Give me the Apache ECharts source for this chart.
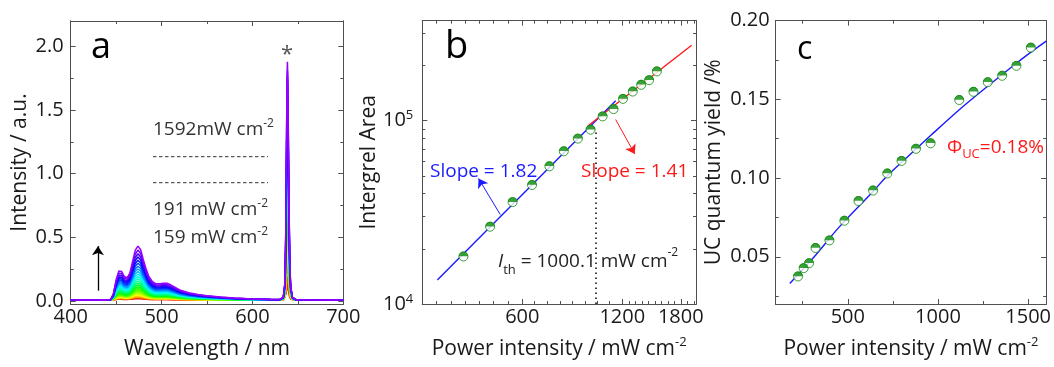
<!DOCTYPE html>
<html>
<head>
<meta charset="utf-8">
<script src="https://cdn.jsdelivr.net/npm/echarts@6/dist/echarts.min.js"></script>
<style>
  html, body { margin: 0; padding: 0; background: #ffffff; }
  #main { width: 1054px; height: 367px; }
</style>
</head>
<body>
<div id="main"></div>
<script>
// ---------- (a) emission spectra under increasing excitation ----------
const wavelengths = [400,420,440,444,447,450,453,456,459,462,465,468,471,474,477,480,483,486,490,494,
  498,502,506,510,515,520,530,540,550,565,580,600,620,630,634,636,637,638,638.5,639,640,641,642,644,648,660,680,700];
// upconverted band of the strongest spectrum (a.u., above baseline)
const bandShape = [0,0,0.001,0.004,0.05,0.16,0.228,0.225,0.185,0.175,0.21,0.30,0.39,0.424,0.395,0.315,0.245,0.185,0.145,0.128,
  0.128,0.133,0.132,0.12,0.1,0.08,0.058,0.044,0.034,0.024,0.016,0.009,0.005,0.004,0.0035,0.0035,0.0035,0.0035,0.0035,0.0035,
  0.0035,0.0035,0.0035,0.003,0.003,0.002,0.001,0];
// scattered excitation line, normalised
const laserShape = [0,0,0,0,0,0,0,0,0,0,0,0,0,0,0,0,0,0,0,0,
  0,0,0,0,0,0,0,0,0,0,0,0,0,0,0.01,0.08,0.4,0.93,1,0.93,
  0.5,0.18,0.06,0.01,0,0,0,0];
const baseline = 0.006;
// band height at 474 nm and excitation-line height for each spectrum, weakest first
const bandPeaks = [0.012,0.015,0.019,0.023,0.028,0.034,0.041,0.049,0.058,0.068,0.079,0.091,0.104,0.118,
  0.133,0.149,0.166,0.184,0.203,0.223,0.244,0.266,0.289,0.313,0.338,0.364,0.393,0.424];
const laserPeaks = [0.15,0.12,0.2,0.28,0.35,0.62,0.5,0.45,1.02,0.8,0.7,0.9,0.75,1.0,
  0.95,1.05,1.1,1.15,1.2,1.3,1.35,1.45,1.5,1.6,1.65,1.75,1.8,1.87];
const arrowA = [[430, 0.08], [430, 0.43]];

const ticksAx = [400, 500, 600, 700], minorAx = [450, 550, 650];
const ticksAy = [0, 0.5, 1.0, 1.5, 2.0], minorAy = [0.25, 0.75, 1.25, 1.75];

// ---------- (b) integrated area vs power density (log-log) ----------
const powerB = [399,480,561,642,724,800,882,963,1047,1129,1206,1290,1368,1445,1525];
const areaB = [18150,26380,35920,44510,56270,67960,79680,89150,105300,115400,131200,143800,156500,165900,185300];
const lowFit = { start: [333, 13500], end: 1146, slope: 1.82 };
const highFit = { start: [945, 93300], end: 1941, slope: 1.41 };
const thresholdPower = 1000.1;
const thresholdSpan = [10000, 90000];
const arrowLow = [[515, 30740], [443, 48290]];
const arrowHigh = [[1146, 101250], [1308, 65740]];

const ticksBx = [600, 1200, 1800];
const minorBx = [331,366,404,446,492,543, 654,713,778,849,925,1009,1100, 1255,1313,1374,1437,1504,1573,1646,1721, 1883,1970];
const ticksBy = [1e4, 1e5];
const minorBy = [2e4,3e4,4e4,5e4,6e4,7e4,8e4,9e4,2e5,3e5];

// ---------- (c) upconversion quantum yield ----------
const powerC = [224,255,285,321,398,481,559,640,719,798,878,959,1118,1197,1276,1356,1435,1515];
const yieldC = [0.0375,0.0428,0.0459,0.0556,0.0604,0.0729,0.0854,0.0921,0.1029,0.1109,0.1186,0.1221,0.1496,0.1548,0.1609,0.165,0.1713,0.1829];
const fitC = [[178,0.033],[321,0.051],[453,0.069],[636,0.091],[719,0.1015],[880,0.1186],[959,0.127],[1118,0.1434],[1197,0.151],[1435,0.173],[1600,0.187]];

const ticksCx = [500, 1000, 1500], minorCx = [250, 750, 1250];
const ticksCy = [0.05, 0.10, 0.15, 0.20], minorCy = [0.025, 0.075, 0.125, 0.175];

// ---------- styling ----------
const FONT = 'Open Sans';
const INK = '#1a1a1a';
const FRAME = '#505050';
const GREEN = '#0b8a0b';
const BLUE = '#1a1aff';
const RED = '#ff1a1a';
const lg = Math.log10;

const supRich = (size) => ({ sup: { fontSize: size, fontFamily: FONT, color: INK, verticalAlign: 'top', lineHeight: size } });

const xAxes = [], yAxes = [];
function addAxes(list, gridIndex, sides, range, majors, minors, labelOpt, nameOpt) {
  const first = list.length;
  sides.forEach((side, s) => {
    [majors, minors].forEach((ticks, m) => {
      const ax = {
        gridIndex, type: 'value', position: side, min: range[0], max: range[1],
        splitLine: { show: false },
        axisLine: { show: true, onZero: false, lineStyle: { color: FRAME, width: 1 } },
        axisTick: { show: true, inside: true, length: m === 0 ? 5 : 3, customValues: ticks,
                    lineStyle: { color: FRAME, width: 1 } },
        axisLabel: { show: false }
      };
      if (s === 0 && m === 0) {
        ax.axisLabel = Object.assign({ show: true, customValues: majors, color: INK,
          fontFamily: FONT, fontSize: 20, formatter: v => String(v) }, labelOpt);
        Object.assign(ax, nameOpt);
      }
      list.push(ax);
    });
  });
  return first;
}
function xName(text, gap) {
  return { name: text, nameLocation: 'middle', nameGap: gap,
    nameTextStyle: { fontSize: 21, fontFamily: FONT, color: INK, lineHeight: 26, rich: supRich(13) } };
}
function yName(text, gap) {
  return { name: text, nameLocation: 'middle', nameGap: gap,
    nameTextStyle: { fontSize: 21, fontFamily: FONT, color: INK } };
}

// panel a axes
const ax0 = addAxes(xAxes, 0, ['bottom', 'top'], [400, 700], ticksAx, minorAx,
  { margin: 3 }, xName('Wavelength / nm', 32));
const ay0 = addAxes(yAxes, 0, ['left', 'right'], [-0.025, 2.2], ticksAy, minorAy,
  { margin: 7, formatter: v => v.toFixed(1) }, yName('Intensity / a.u.', 40));
// panel b axes (logarithmic coordinates)
const ax1 = addAxes(xAxes, 1, ['bottom', 'top'], [lg(300), lg(2000)], ticksBx.map(lg), minorBx.map(lg),
  { margin: 3, formatter: v => String(Math.round(Math.pow(10, v))) },
  xName('Power intensity / mW cm{sup|-2}', 32));
const ay1 = addAxes(yAxes, 1, ['left', 'right'], [4, lg(3.5e5)], ticksBy.map(lg), minorBy.map(lg),
  { margin: 9, lineHeight: 23, formatter: v => '10{sup|' + Math.round(v) + '}', rich: supRich(13) },
  yName('Intergrel Area', 42));
// panel c axes
const ax2 = addAxes(xAxes, 2, ['bottom', 'top'], [100, 1600], ticksCx, minorCx,
  { margin: 3 }, xName('Power intensity / mW cm{sup|-2}', 32));
const ay2 = addAxes(yAxes, 2, ['left', 'right'], [0.02, 0.20], ticksCy, minorCy,
  { margin: 6, formatter: v => v.toFixed(2) }, yName('UC quantum yield /%', 51));

// ---------- series ----------
const series = [];

// spectra, weakest (red) to strongest (violet)
bandPeaks.forEach((peak, k) => {
  const scale = peak / bandPeaks[bandPeaks.length - 1];
  const hue = Math.round(k * 275 / (bandPeaks.length - 1));
  series.push({
    type: 'line', xAxisIndex: ax0, yAxisIndex: ay0, showSymbol: false, silent: true,
    lineStyle: { width: 1.5, color: 'hsl(' + hue + ',100%,50%)' },
    data: wavelengths.map((w, i) => [w, baseline + bandShape[i] * scale + laserPeaks[k] * laserShape[i]])
  });
});
function arrowSeries(xi, yi, pts, color, width) {
  return {
    type: 'line', xAxisIndex: xi, yAxisIndex: yi, data: [], silent: true,
    markLine: {
      silent: true, symbol: ['none', 'arrow'], symbolSize: 9, label: { show: false },
      lineStyle: { color, width, type: 'solid' }, emphasis: { disabled: true }, animation: false,
      data: [[{ coord: pts[0] }, { coord: pts[1] }]]
    }
  };
}
series.push(arrowSeries(ax0, ay0, arrowA, '#000', 1.3));

// panel b fits, threshold and points
function fitLine(fit) {
  const y2 = fit.start[1] * Math.pow(fit.end / fit.start[0], fit.slope);
  return [[lg(fit.start[0]), lg(fit.start[1])], [lg(fit.end), lg(y2)]];
}
series.push({ type: 'line', xAxisIndex: ax1, yAxisIndex: ay1, showSymbol: false, silent: true,
  lineStyle: { color: BLUE, width: 1.4 }, data: fitLine(lowFit), z: 3 });
series.push({ type: 'line', xAxisIndex: ax1, yAxisIndex: ay1, showSymbol: false, silent: true,
  lineStyle: { color: RED, width: 1.4 }, data: fitLine(highFit), z: 3 });
series.push({ type: 'line', xAxisIndex: ax1, yAxisIndex: ay1, showSymbol: false, silent: true,
  lineStyle: { color: '#000', width: 1.5, type: [1.5, 3.5] },
  data: thresholdSpan.map(v => [lg(thresholdPower), lg(v)]), z: 3 });
series.push(arrowSeries(ax1, ay1, arrowLow.map(p => [lg(p[0]), lg(p[1])]), BLUE, 1));
series.push(arrowSeries(ax1, ay1, arrowHigh.map(p => [lg(p[0]), lg(p[1])]), RED, 1));

const HALF_DISC = 'path://M0,10 A10,10 0 0 1 20,10 Z';
function markers(xi, yi, pts) {
  return [
    { type: 'scatter', xAxisIndex: xi, yAxisIndex: yi, data: pts, symbol: 'circle', symbolSize: 9,
      itemStyle: { color: '#ffffff', borderColor: GREEN, borderWidth: 1 }, z: 5, silent: true },
    { type: 'scatter', xAxisIndex: xi, yAxisIndex: yi, data: pts, symbol: HALF_DISC, symbolSize: [9.5, 4.75],
      symbolOffset: [0, -2.6], itemStyle: { color: GREEN }, z: 6, silent: true }
  ];
}
series.push(...markers(ax1, ay1, powerB.map((p, i) => [lg(p), lg(areaB[i])])));

// panel c fit and points
series.push({ type: 'line', xAxisIndex: ax2, yAxisIndex: ay2, showSymbol: false, silent: true, smooth: 0.4,
  lineStyle: { color: BLUE, width: 1.4 }, data: fitC, z: 3 });
series.push(...markers(ax2, ay2, powerC.map((p, i) => [p, yieldC[i]])));

// ---------- annotations ----------
function txt(x, y, text, size, fill, extra) {
  return Object.assign({ type: 'text', x, y, silent: true, z: 20,
    style: Object.assign({ text, fontSize: size, fontFamily: FONT, fill, align: 'left', verticalAlign: 'middle' }, extra || {}) });
}
const supG = (fill) => ({ sup: { fontSize: 12, fontFamily: FONT, fill, verticalAlign: 'top', lineHeight: 12 } });
const subG = (fill) => ({ sub: { fontSize: 13, fontFamily: FONT, fill, verticalAlign: 'bottom', lineHeight: 13 } });

const graphic = [
  txt(91, 48, 'a', 36, '#000'),
  txt(445, 47, 'b', 38, '#000'),
  txt(797, 50, 'c', 32, '#000'),
  txt(281, 55, '*', 22, '#555'),
  txt(153, 130, '1592mW cm{sup|-2}', 19, '#333', { lineHeight: 24, rich: supG('#333') }),
  txt(153, 210, '191 mW cm{sup|-2}', 19, '#333', { lineHeight: 24, rich: supG('#333') }),
  txt(153, 238, '159 mW cm{sup|-2}', 19, '#333', { lineHeight: 24, rich: supG('#333') }),
  { type: 'line', silent: true, shape: { x1: 153, y1: 156.7, x2: 268, y2: 156.7 },
    style: { stroke: '#333', lineWidth: 1, lineDash: [3.5, 2.5] } },
  { type: 'line', silent: true, shape: { x1: 153, y1: 182.7, x2: 268, y2: 182.7 },
    style: { stroke: '#333', lineWidth: 1, lineDash: [3.5, 2.5] } },
  txt(430, 172, 'Slope = 1.82', 19, BLUE),
  txt(581, 172, 'Slope = 1.41', 19, RED),
  txt(498, 262, '{it|I}{sub|th} = 1000.1 mW cm{sup|-2}', 19, '#222', { lineHeight: 30,
    rich: Object.assign({ it: { fontSize: 19, fontFamily: FONT, fontStyle: 'italic', fill: '#222' } }, subG('#222'), supG('#222')) }),
  txt(947, 148, 'Φ{sub|UC}=0.18%', 19, RED, { lineHeight: 25, rich: subG(RED) })
];

const chart = echarts.init(document.getElementById('main'), null, { renderer: 'canvas' });
chart.setOption({
  animation: false,
  backgroundColor: '#ffffff',
  grid: [
    { left: 70.7, top: 21, width: 272.6, height: 288 },
    { left: 422.3, top: 20.7, width: 273.7, height: 288.6 },
    { left: 775.7, top: 20.7, width: 273, height: 288.6 }
  ],
  xAxis: xAxes,
  yAxis: yAxes,
  series,
  graphic
});
</script>
</body>
</html>
